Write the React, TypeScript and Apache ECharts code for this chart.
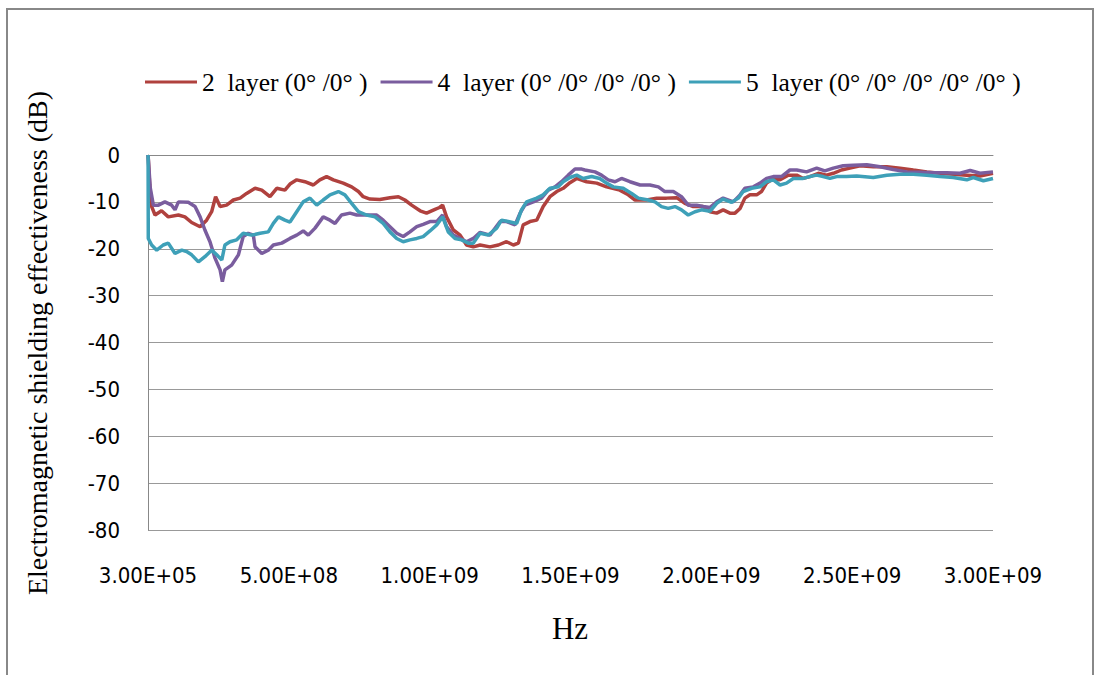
import React, { useEffect, useRef } from "react";
import * as echarts from "echarts";

// Frequency (MHz) and shielding effectiveness (dB)
const twoLayerMHz = [0.3, 6, 13, 25, 48, 72, 108, 131, 155, 185, 208, 226, 240, 256, 279, 303, 327, 350, 380, 404, 433, 457, 486, 504, 528, 557, 587, 610, 634, 658, 693, 723, 747, 764, 788, 823, 859, 889, 912, 936, 966, 989, 1019, 1035, 1046, 1060, 1084, 1108, 1131, 1155, 1179, 1214, 1244, 1273, 1297, 1315, 1332, 1356, 1380, 1403, 1427, 1451, 1474, 1498, 1522, 1557, 1593, 1628, 1675, 1705, 1729, 1770, 1806, 1841, 1877, 1906, 1936, 1971, 1995, 2019, 2042, 2066, 2084, 2102, 2119, 2137, 2161, 2178, 2196, 2214, 2244, 2273, 2303, 2326, 2350, 2380, 2409, 2433, 2462, 2492, 2528, 2575, 2623, 2670, 2717, 2765, 2812, 2859, 2907, 2954, 3000];
const twoLayerDb = [0, -6.4, -11, -12.8, -11.9, -13.2, -12.8, -13.2, -14.4, -15.3, -13.9, -12.1, -8.9, -11.0, -10.7, -9.6, -9.2, -8.2, -7.1, -7.5, -8.9, -7.1, -7.5, -6.2, -5.3, -5.7, -6.4, -5.3, -4.6, -5.3, -6.0, -6.8, -7.8, -8.9, -9.4, -9.5, -9.1, -8.9, -9.6, -10.7, -11.9, -12.4, -11.6, -11.2, -10.7, -13.2, -16, -17.1, -19.2, -19.6, -19.2, -19.6, -19.2, -18.5, -19.2, -18.8, -14.9, -14.2, -13.9, -11.0, -8.9, -7.8, -7.1, -5.9, -5.0, -5.7, -6.0, -6.8, -7.5, -8.5, -9.6, -9.6, -9.2, -9.2, -9.1, -10.3, -11.0, -11.0, -12.1, -12.4, -11.7, -12.4, -12.4, -11.4, -9.2, -8.5, -8.5, -7.8, -6.0, -5.3, -5.3, -4.3, -4.3, -5.0, -4.6, -3.9, -4.3, -3.9, -3.2, -2.8, -2.3, -2.5, -2.5, -2.8, -3.2, -3.6, -3.9, -4.1, -4.3, -4.5, -3.9];

const fourLayerMHz = [0.3, 8, 19, 37, 60, 84, 96, 108, 143, 167, 185, 202, 220, 238, 256, 264, 273, 297, 321, 338, 356, 374, 380, 404, 427, 445, 475, 504, 528, 551, 569, 593, 622, 646, 664, 687, 717, 741, 776, 812, 835, 859, 883, 906, 930, 954, 977, 1001, 1025, 1046, 1060, 1084, 1108, 1131, 1155, 1179, 1214, 1250, 1273, 1303, 1321, 1338, 1368, 1397, 1421, 1445, 1468, 1492, 1516, 1540, 1551, 1587, 1610, 1634, 1658, 1681, 1711, 1747, 1782, 1812, 1835, 1865, 1894, 1918, 1948, 1971, 1995, 2019, 2042, 2078, 2102, 2119, 2149, 2173, 2196, 2220, 2249, 2279, 2303, 2338, 2374, 2403, 2433, 2468, 2504, 2552, 2599, 2646, 2694, 2741, 2788, 2836, 2883, 2919, 2954, 3000];
const fourLayerDb = [0, -7, -10.7, -10.7, -10, -10.7, -11.7, -10, -10.1, -11, -13.2, -16, -18.5, -22, -24.5, -27, -24.5, -23.5, -21.3, -17.4, -16.7, -17.1, -19.6, -21, -20.3, -19.2, -18.8, -17.8, -17.1, -16.2, -17.1, -15.6, -13.2, -13.9, -14.6, -12.8, -12.4, -12.8, -12.8, -12.8, -13.9, -15.3, -16.7, -17.4, -16.4, -15.3, -14.8, -14.2, -14.2, -12.8, -15.3, -17.1, -17.8, -18.5, -17.8, -16.5, -17.1, -14.2, -14.2, -14.9, -12.4, -10.7, -10, -9.2, -7.5, -6.8, -5.7, -4.3, -3.0, -3.0, -3.2, -3.6, -4.3, -5.3, -5.7, -5.0, -5.7, -6.4, -6.4, -6.8, -7.8, -7.8, -8.9, -10.7, -10.7, -11.0, -11.2, -10, -9.2, -10, -8.5, -7.1, -6.8, -6.0, -5.0, -4.6, -4.6, -3.2, -3.2, -3.6, -2.8, -3.4, -2.8, -2.3, -2.2, -2.1, -2.5, -3.1, -3.6, -3.7, -3.8, -3.8, -3.9, -3.3, -3.9, -3.6];

const fiveLayerMHz = [0.3, 1, 13, 31, 54, 72, 96, 120, 137, 155, 179, 202, 226, 244, 262, 273, 291, 315, 338, 368, 398, 427, 445, 463, 486, 504, 528, 551, 575, 599, 622, 646, 676, 699, 723, 747, 776, 806, 835, 859, 883, 906, 930, 954, 977, 1001, 1025, 1046, 1066, 1090, 1113, 1137, 1155, 1179, 1208, 1238, 1255, 1279, 1309, 1326, 1344, 1380, 1403, 1427, 1456, 1474, 1498, 1522, 1545, 1575, 1604, 1628, 1652, 1687, 1717, 1741, 1776, 1800, 1823, 1847, 1871, 1894, 1918, 1942, 1965, 1995, 2019, 2042, 2072, 2096, 2113, 2143, 2173, 2196, 2220, 2244, 2267, 2291, 2326, 2350, 2374, 2397, 2421, 2445, 2480, 2516, 2575, 2623, 2670, 2717, 2765, 2812, 2859, 2907, 2930, 2966, 3000];
const fiveLayerDb = [0, -17.8, -19.2, -20.3, -19.2, -18.8, -21, -20.3, -20.6, -21.3, -22.8, -21.7, -20.3, -21.3, -22.4, -19.2, -18.5, -18.1, -16.7, -17.1, -16.7, -16.4, -14.6, -13.2, -13.9, -14.3, -12.1, -10, -9.2, -10.7, -9.6, -8.5, -7.8, -8.5, -10.3, -12.1, -12.8, -13.2, -14.6, -16.4, -17.8, -18.5, -18.1, -17.8, -17.4, -16.2, -14.9, -13.2, -16.4, -17.8, -18.1, -18.8, -18.8, -16.7, -17.1, -15.6, -13.9, -14.2, -14.6, -11.7, -10, -9.2, -8.5, -7.1, -6.8, -5.7, -4.8, -4.3, -5.0, -4.6, -5.0, -6.0, -6.8, -7.1, -8.2, -9.2, -9.6, -10, -11, -11.4, -11.0, -11.7, -12.8, -12.1, -11.7, -12.0, -10.3, -9.4, -10.1, -9.2, -7.8, -7.1, -6.8, -5.7, -5.3, -6.4, -6.0, -5.0, -5.0, -4.6, -4.3, -4.6, -5.0, -4.6, -4.6, -4.5, -4.8, -4.3, -4.1, -4.1, -4.3, -4.6, -4.8, -5.3, -4.8, -5.5, -5.0];

const seriesNames = ["2  layer (0° /0° )", "4  layer (0° /0° /0° /0° )", "5  layer (0° /0° /0° /0° /0° )"];
const seriesColors = ["#B0413E", "#7A5D9E", "#3EA0B8"];
const xFirstLabel = "3.00E+05";
const yTitle = "Electromagnetic shielding effectiveness (dB)";
const xTitle = "Hz";

const toPairs = (mhz: number[], db: number[]) => mhz.map((m, i) => [m * 1e6, db[i]]);

const fmtSci = (v: number) => {
  if (v === 0) return xFirstLabel;
  const [m, e] = v.toExponential(2).split("e");
  const n = parseInt(e, 10);
  const sign = n < 0 ? "-" : "+";
  const abs = Math.abs(n);
  return m + "E" + sign + (abs < 10 ? "0" + abs : String(abs));
};

export default function App() {
  const ref = useRef<HTMLDivElement>(null);
  useEffect(() => {
    if (!ref.current) return;
    const chart = echarts.init(ref.current, undefined, { renderer: "svg" });
    const data = [
      toPairs(twoLayerMHz, twoLayerDb),
      toPairs(fourLayerMHz, fourLayerDb),
      toPairs(fiveLayerMHz, fiveLayerDb),
    ];
    chart.setOption({
      animation: false,
      backgroundColor: "#ffffff",
      grid: { left: 148, right: 107, top: 155, bottom: 145, containLabel: false },
      legend: {
        left: 140,
        top: 64,
        icon: "rect",
        itemWidth: 52,
        itemHeight: 3,
        itemGap: 13,
        textStyle: { fontFamily: "Liberation Serif", fontSize: 25.5, color: "#000" },
        data: seriesNames,
      },
      xAxis: {
        type: "value",
        min: 0,
        max: 3e9,
        interval: 5e8,
        axisLine: { show: true, lineStyle: { color: "#888", width: 1 } },
        axisTick: { show: false },
        splitLine: { show: false },
        axisLabel: {
          formatter: fmtSci,
          fontFamily: "Liberation Sans Narrow, DejaVu Sans Condensed, sans-serif",
          fontSize: 22,
          color: "#000",
          margin: 34,
        },
      },
      yAxis: {
        type: "value",
        min: -80,
        max: 0,
        interval: 10,
        axisLine: { show: true, lineStyle: { color: "#888", width: 1 } },
        axisTick: { show: false },
        splitLine: { show: true, lineStyle: { color: "#999", width: 1 } },
        axisLabel: {
          fontFamily: "Liberation Sans Narrow, DejaVu Sans Condensed, sans-serif",
          fontSize: 22,
          color: "#000",
          margin: 28,
        },
      },
      series: data.map((d, i) => ({
        name: seriesNames[i],
        type: "line",
        data: d,
        showSymbol: false,
        symbol: "none",
        color: seriesColors[i],
        lineStyle: { width: 3.5, color: seriesColors[i] },
      })),
      graphic: [
        {
          type: "rect",
          shape: { x: 7, y: 9, width: 1086, height: 700 },
          style: { fill: "none", stroke: "#888", lineWidth: 2 },
          silent: true,
        },
        {
          type: "text",
          x: 570,
          y: 628,
          style: {
            text: xTitle,
            fontFamily: "Liberation Serif",
            fontSize: 31,
            fill: "#000",
            textAlign: "center",
            textVerticalAlign: "middle",
          },
        },
        {
          type: "text",
          x: 37,
          y: 343,
          rotation: Math.PI / 2,
          style: {
            text: yTitle,
            fontFamily: "Liberation Serif",
            fontSize: 28,
            fill: "#000",
            textAlign: "center",
            textVerticalAlign: "middle",
          },
        },
      ],
    });
    return () => chart.dispose();
  }, []);
  return (
    <div
      ref={ref}
      style={{ position: "fixed", left: 0, top: 0, width: 1100, height: 675 }}
    />
  );
}
